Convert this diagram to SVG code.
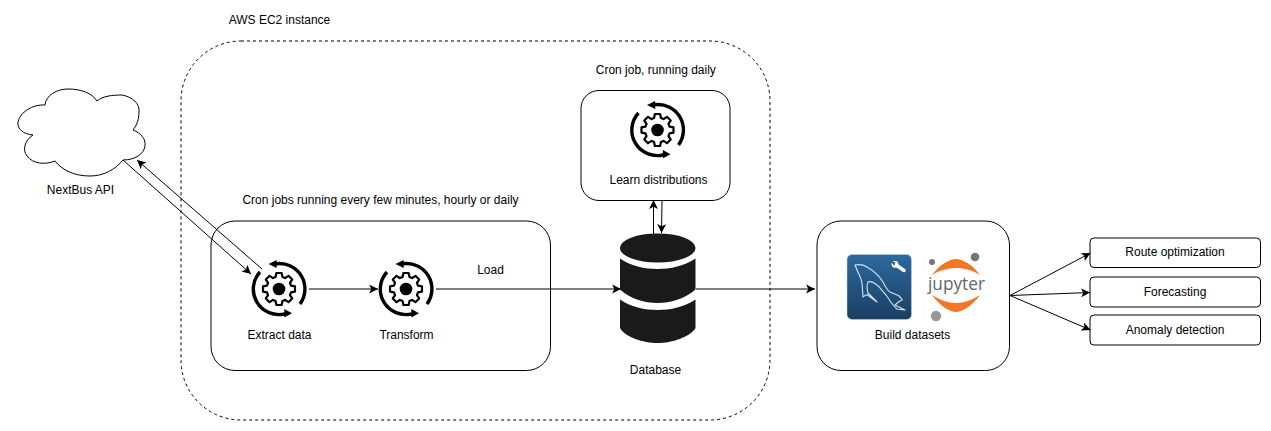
<svg xmlns="http://www.w3.org/2000/svg" width="1271" height="431" viewBox="0 0 1271 431">
<style>
text{font-family:"Liberation Sans",Arial,sans-serif;font-size:12px;fill:#000;text-anchor:middle}
.box{fill:#fff;stroke:#000;stroke-width:1}
.c{fill:none;stroke:#000;stroke-width:1;marker-end:url(#ah)}
</style>
<defs>
<marker id="ah" markerUnits="userSpaceOnUse" markerWidth="10" markerHeight="10" refX="8" refY="4" orient="auto" viewBox="0 0 9 8"><path d="M0 0L8 4L0 8L2 4Z" fill="#000"/></marker>
<linearGradient id="my" x1="0" y1="0" x2="0" y2="1"><stop offset="0" stop-color="#2c6a9e"/><stop offset="1" stop-color="#1a3f63"/></linearGradient>
<g id="cog">
<path d="M12.02 -3.45L16 -2.6L16 2.6L12.02 3.45L10.93 6.06L13.2 9.46L9.46 13.2L6.06 10.93L3.45 12.02L2.6 16L-2.6 16L-3.45 12.02L-6.06 10.93L-9.46 13.2L-13.2 9.46L-10.93 6.06L-12.02 3.45L-16 2.6L-16 -2.6L-12.02 -3.45L-10.93 -6.06L-13.2 -9.46L-9.46 -13.2L-6.06 -10.93L-3.45 -12.02L-2.6 -16L2.6 -16L3.45 -12.02L6.06 -10.93L9.46 -13.2L13.2 -9.46L10.93 -6.06Z" fill="#fff" stroke="#000" stroke-width="2.200" stroke-linejoin="round"/>
<circle r="6.300" fill="#000"/>
<path d="M-3 -25.2A25.400 25.400 0 0 1 21 15" fill="none" stroke="#000" stroke-width="3.400"/>
<path d="M-10.500 -25L-2.300 -29L-2.300 -21Z" fill="#000"/>
<path d="M-19 -17A25.400 25.400 0 0 0 6 24.800" fill="none" stroke="#000" stroke-width="3.400"/>
<path d="M13 24.300L5.300 20L5.300 28.500Z" fill="#000"/>
</g>
</defs>
<g id="aws-instance"><rect x="181" y="41" width="589" height="379" rx="60" fill="#fff" stroke="#000" stroke-dasharray="3 3"/><text x="279.500" y="24">AWS EC2 instance</text></g>
<g id="etl-box"><rect class="box" x="211" y="221" width="339.500" height="149.500" rx="24"/><text x="380.500" y="204">Cron jobs running every few minutes, hourly or daily</text></g>
<g id="learn"><rect class="box" x="581" y="90.500" width="149" height="110" rx="18"/><text x="655.800" y="74">Cron job, running daily</text><use href="#cog" x="657.500" y="130"/><text x="658.500" y="184">Learn distributions</text></g>
<g id="build"><rect class="box" x="817" y="221" width="192.500" height="149.500" rx="24"/><text x="912.500" y="339">Build datasets</text>
<rect x="847" y="254.500" width="64.500" height="65" rx="5" fill="url(#my)" stroke="#c8d4de" stroke-width=".5"/>
<path d="M855 265C860 264 864 265 867 267C874 271 880 277 883 282C886 288 888 291 890 292C894 294 898 295 899 296C901 298 903 300 902 300C899 301 897 303 895 305L905 310L897 309C892 305 889 299 886 295C882 291 880 287 877 285C873 282 870 281 868 282C866 287 867 290 868 293L877 302L869 296C866 293 865 296 863 297C863 291 862 287 862 283C861 277 858 273 857 270Z" fill="none" stroke="#d5e3ee" stroke-width="1.100" stroke-linejoin="round"/>
<path d="M896 265L904 270.500" stroke="#fff" stroke-width="3.500" fill="none" stroke-linecap="round"/>
<circle cx="895" cy="264.300" r="3.400" fill="#fff"/>
<path d="M891 261L895.500 262.500L894 266Z" fill="#285f8f"/>
<circle cx="975" cy="257" r="4.300" fill="#767677"/><circle cx="932" cy="262" r="3" fill="#767677"/><circle cx="936" cy="316" r="5.200" fill="#989798"/>
<path d="M932 275C940 264 950 259 956 259C962 259 972 264 980 275C972 270 964 268 956 268C948 268 940 270 932 275Z" fill="#f37726"/>
<path d="M932 295C940 300 948 303 956 303C964 303 972 300 980 295C972 306 962 312 956 312C950 312 940 306 932 295Z" fill="#f37726"/>
<text x="956.500" y="290" textLength="57" lengthAdjust="spacingAndGlyphs" style="font-size:18px;fill:#666;font-family:'Open Sans',sans-serif">jupyter</text></g>
<g id="cloud"><path d="M45 105C46 95 57 89 68 89C81 89 92 93 97 101C103 96 112 95 122 95C133 97 140 104 139 112C139 119 137 125 133 130C141 133 146 139 145 146C144 154 135 160 123 160C115 170 103 176 90 176C74 176 62 170 55 161C45 165 33 164 27 156C22 150 25 140 33 135C23 134 17 129 18 122C20 112 33 104 45 105Z" fill="#fff" stroke="#000"/><text x="80.500" y="194">NextBus API</text></g>
<g id="extract"><use href="#cog" x="279" y="289"/><text x="279.500" y="339">Extract data</text></g>
<g id="transform"><use href="#cog" x="406" y="289"/><text x="406.500" y="339">Transform</text></g>
<g id="database">
<g fill="#1a1a1a"><ellipse cx="657.700" cy="248" rx="37.800" ry="14.500"/>
<path d="M620 258.500C630 266 645 269 657.700 269C670 269 685 266 695.500 258.500V289.500C685 299 670 303 657.700 303C645 303 630 299 620 289.500Z"/>
<path d="M620 299.500C630 307 645 310 657.700 310C670 310 685 307 695.500 299.500V328C690 337 672 343 657.700 343C643 343 625 337 620 328Z"/></g>
<text x="655.500" y="374">Database</text></g>
<g id="route"><rect class="box" x="1090" y="238" width="170.500" height="29.500" rx="4"/><text x="1175" y="256">Route optimization</text></g>
<g id="forecast"><rect class="box" x="1090" y="277" width="170.500" height="30" rx="4"/><text x="1175" y="296">Forecasting</text></g>
<g id="anomaly"><rect class="box" x="1090" y="315" width="170.500" height="30" rx="4"/><text x="1175" y="334">Anomaly detection</text></g>
<text id="load-label" x="490.500" y="274">Load</text>
<g id="connectors">
<path class="c" d="M123 160L251 274"/>
<path class="c" d="M262 269L137 160"/>
<path class="c" d="M309 289H378"/>
<path class="c" d="M436 289H621"/>
<path class="c" d="M653.500 234V200"/>
<path class="c" d="M662 200L661.500 233"/>
<path class="c" d="M696 289H815"/>
<path class="c" d="M1010 295.500L1090.500 253"/>
<path class="c" d="M1010 295.500L1090 292.500"/>
<path class="c" d="M1010 295.500L1090.500 330"/>
</g>
</svg>
